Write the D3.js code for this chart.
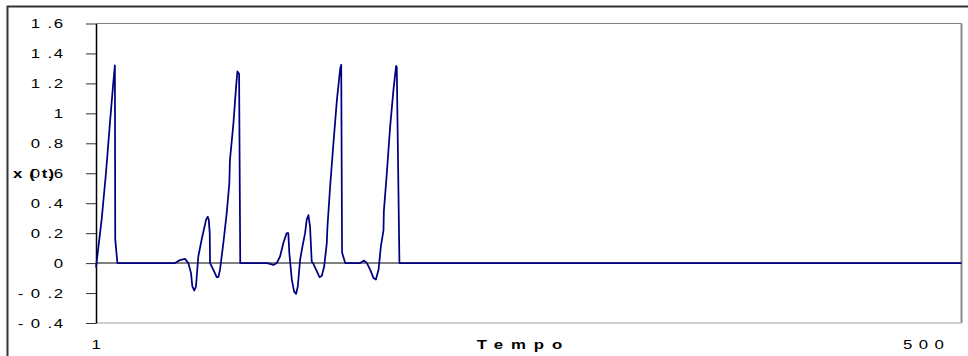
<!DOCTYPE html>
<html>
<head>
<meta charset="utf-8">
<script src="https://cdn.jsdelivr.net/npm/d3@7/dist/d3.min.js"></script>
<style>
  body { margin: 0; background: #fff; }
  svg { display: block; font-family: "Liberation Sans", Arial, sans-serif; }
</style>
</head>
<body>
<svg id="chart" width="968" height="356"></svg>
<script>
// vertices of the trace
const tempo = [1, 4.4, 7, 9.4, 11.4, 12.4, 12.6, 13.9,
  48.7, 51.7, 54.7, 56.7, 58.3, 59.1, 60.3, 61.3, 62.7, 64.7, 67.4, 68.4, 69, 69.6, 69.8,
  71.8, 73.8, 74.8, 75.8, 77.8, 79.8, 81.4, 81.8, 83.9, 85.5, 86.3, 87.3, 88,
  104, 106, 108, 110, 112, 114, 116, 117, 117.6, 119.1, 120.5, 121.7, 122.7, 124.1, 125.5,
  127.1, 128.1, 129.1, 130.1, 131.1, 132.1, 133.8, 135.8, 137.2, 138.6, 140.2, 140.6,
  142.2, 144.2, 146.3, 148.3, 148.9, 149.4, 151.3,
  160.3, 162.7, 164.4, 166.4, 168.4, 169.8, 171.4, 172.8, 174.4, 174.6, 176.4, 178.4,
  180.4, 182, 182.4, 184, 523];
const xt = [-0.03, 0.29, 0.60, 0.935, 1.20, 1.32, 0.16, 0,
  0, 0.02, 0.028, 0, -0.067, -0.156, -0.183, -0.156, 0.044, 0.156, 0.29, 0.31, 0.29, 0.2, 0,
  -0.045, -0.094, -0.094, -0.045, 0.134, 0.33, 0.53, 0.69, 0.935, 1.18, 1.28, 1.265, 0,
  0, -0.005, -0.013, 0, 0.044, 0.134, 0.2, 0.2, 0.067, -0.11, -0.19, -0.205, -0.156, 0.022, 0.11,
  0.2, 0.29, 0.32, 0.244, 0.01, -0.005, -0.045, -0.094, -0.085, -0.023, 0.134, 0.244,
  0.51, 0.8, 1.09, 1.30, 1.324, 0.07, 0,
  0, 0.017, 0, -0.045, -0.1, -0.11, -0.045, 0.11, 0.22, 0.345, 0.6, 0.91,
  1.157, 1.317, 1.31, 0, 0];
const yTicks = [-0.4, -0.2, 0, 0.2, 0.4, 0.6, 0.8, 1, 1.2, 1.4, 1.6];
const xTicks = [1, 500];
const tMax = 523;

const width = 968, height = 356;
const padding = { top: 23.5, right: 6.5, bottom: 33, left: 96 };
const stretch = 'scale(1.4,1)'; // the original text is drawn wide

const svg = d3.select('#chart');
const data = tempo.map((t, i) => ({ t: t, v: xt[i] }));

const xScale = d3.scaleLinear()
  .domain([1, tMax])
  .range([padding.left, width - padding.right]);
const yScale = d3.scaleLinear()
  .domain([-0.4, 1.6])
  .range([height - padding.bottom, padding.top]);

// "1.6" -> "1 .6", "-0.2" -> "- 0 .2"
const spaced = v => String(+v.toFixed(1)).replace('-', '- ').replace('.', ' .');

// outer chart frame
svg.append('rect')
  .attr('x', 7.5).attr('y', 6.5)
  .attr('width', 1000).attr('height', 400)
  .attr('fill', 'none')
  .attr('stroke', '#333')
  .attr('stroke-width', 2);

// plot area border
const x0 = xScale.range()[0], x1 = xScale.range()[1];
const yTop = yScale.range()[1], yBot = yScale.range()[0];
svg.append('line')
  .attr('x1', x0).attr('x2', x1).attr('y1', yTop).attr('y2', yTop)
  .attr('stroke', '#808080');
svg.append('line')
  .attr('x1', x1).attr('x2', x1).attr('y1', yTop).attr('y2', yBot)
  .attr('stroke', '#8a8a8a').attr('stroke-width', 2);
svg.append('line')
  .attr('x1', x0).attr('x2', x1).attr('y1', yBot).attr('y2', yBot)
  .attr('stroke', '#c0c0c0').attr('stroke-width', 1.5);

// category axis crossing at zero
svg.append('line')
  .attr('x1', x0).attr('x2', x1)
  .attr('y1', yScale(0)).attr('y2', yScale(0))
  .attr('stroke', '#808080')
  .attr('stroke-width', 2);

// value axis
const yAxis = d3.axisLeft(yScale)
  .tickValues(yTicks)
  .tickSize(10)
  .tickSizeOuter(0)
  .tickFormat(spaced);
const gy = svg.append('g')
  .attr('transform', 'translate(' + padding.left + ',0)')
  .call(yAxis);
gy.select('.domain').attr('stroke', '#000').attr('stroke-width', 1.5);
gy.selectAll('.tick line').attr('stroke', '#333');
gy.selectAll('.tick text')
  .attr('x', 0).attr('dy', null).attr('y', 4.3)
  .attr('transform', 'translate(-31.6,0) ' + stretch)
  .style('font-size', '12px')
  .style('letter-spacing', '1px')
  .attr('fill', '#000');

// category labels
const xAxis = d3.axisBottom(xScale)
  .tickValues(xTicks)
  .tickSize(0)
  .tickFormat(d => String(d).split('').join(' '));
const gx = svg.append('g')
  .attr('transform', 'translate(0,' + yBot + ')')
  .call(xAxis);
gx.select('.domain').remove();
gx.selectAll('.tick text')
  .attr('y', 0).attr('dy', null)
  .attr('transform', 'translate(0,25.5) ' + stretch)
  .style('font-size', '12px')
  .style('letter-spacing', '0.6px')
  .attr('fill', '#000');

// axis titles
svg.append('text')
  .attr('transform', 'translate(523.5,349.3) ' + stretch)
  .attr('text-anchor', 'middle')
  .style('font-size', '12px')
  .style('font-weight', 'bold')
  .style('letter-spacing', '5.7px')
  .text('Tempo');
svg.append('text')
  .attr('transform', 'translate(13,178) ' + stretch)
  .style('font-size', '12px')
  .style('font-weight', 'bold')
  .style('letter-spacing', '0.8px')
  .text('x ( t)');

// the trace
const line = d3.line()
  .x(d => xScale(d.t))
  .y(d => yScale(d.v));
svg.append('path')
  .attr('d', line(data))
  .attr('fill', 'none')
  .attr('stroke', '#000080')
  .attr('stroke-width', 1.75)
  .attr('stroke-linejoin', 'round');
</script>
</body>
</html>
